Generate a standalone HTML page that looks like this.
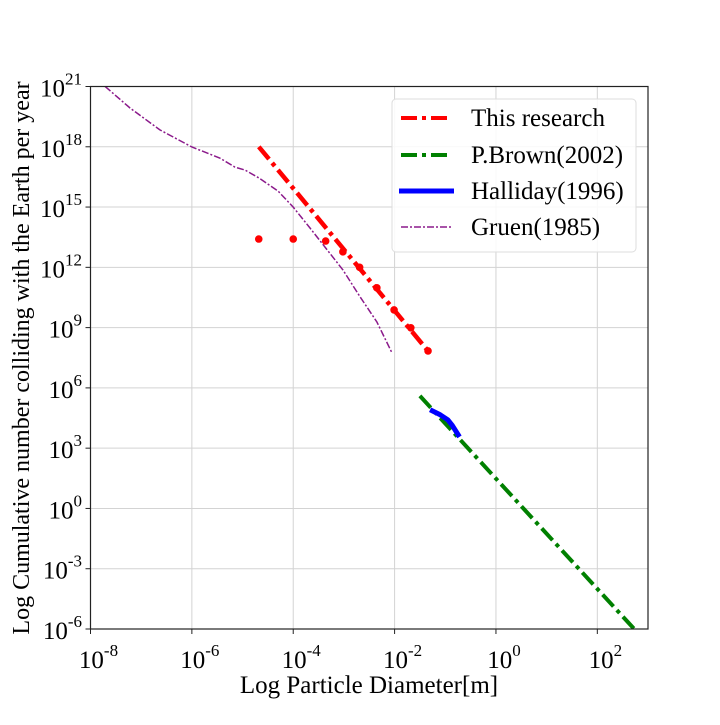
<!DOCTYPE html>
<html><head><meta charset="utf-8"><style>
html,body{margin:0;padding:0;background:#fff;}
svg text, svg tspan{font-family:"Liberation Serif","DejaVu Serif",serif;fill:#000;}
</style></head><body>
<svg id="chart" width="720" height="720" viewBox="0 0 720 720" xmlns="http://www.w3.org/2000/svg" font-family="Liberation Serif, DejaVu Serif, serif">
<defs><clipPath id="clip"><rect x="90.5" y="86.5" width="557.5" height="542.5"/></clipPath></defs>
<g id="grid"></g>
<g id="series" clip-path="url(#clip)"></g>
<rect x="90.5" y="86.5" width="557.5" height="542.5" fill="none" stroke="#222" stroke-width="1.2"/>
<g id="ticks"></g>
<text x="369" y="693" font-size="25" font-family="Liberation Serif, serif" text-anchor="middle">Log Particle Diameter[m]</text>
<text transform="translate(29,358) rotate(-90)" font-size="24" font-family="Liberation Serif, serif" text-anchor="middle">Log Cumulative number colliding with the Earth per year</text>
<g font-family="Liberation Serif, serif">
<rect x="392" y="99" width="244" height="153" rx="4" fill="#fff" fill-opacity="0.85" stroke="#ddd" stroke-width="1"/>
<line x1="401" y1="118" x2="452" y2="118" stroke="red" stroke-width="4" stroke-dasharray="16,5,4,5"/>
<text x="471" y="126" font-size="25" font-family="Liberation Serif, serif">This research</text>
<line x1="401" y1="155" x2="452" y2="155" stroke="green" stroke-width="4" stroke-dasharray="16,5,4,5"/>
<text x="471" y="163" font-size="25" font-family="Liberation Serif, serif">P.Brown(2002)</text>
<line x1="399" y1="191" x2="454" y2="191" stroke="blue" stroke-width="5"/>
<text x="471" y="199" font-size="25" font-family="Liberation Serif, serif">Halliday(1996)</text>
<line x1="401" y1="227" x2="452" y2="227" stroke="#8b1a8b" stroke-width="1.5" stroke-dasharray="7,2,2,2"/>
<text x="471" y="235" font-size="25" font-family="Liberation Serif, serif">Gruen(1985)</text>
</g>
</svg>
<script>
// data (log10 values)
const xTicks = [-8,-6,-4,-2,0,2];
const yTicks = [21,18,15,12,9,6,3,0,-3,-6];
const researchLineX = [-4.68, -1.34];
const researchLineY = [18.0, 7.84];
const researchPtsX = [-4.68,-4.0,-3.36,-3.02,-2.69,-2.35,-2.01,-1.68,-1.34];
const researchPtsY = [13.41,13.41,13.31,12.77,12.0,10.98,9.88,8.99,7.84];
const brownX = [-1.5, 2.8];
const brownY = [5.6, -6.2];
const hallidayX = [-1.30,-1.10,-0.95,-0.87,-0.72];
const hallidayY = [4.91,4.66,4.41,4.16,3.56];
const gruenX = [-7.71,-7.22,-6.63,-6.0,-5.45,-5.15,-4.95,-4.68,-4.30,-4.0,-3.67,-3.36,-3.02,-2.69,-2.35,-2.06];
const gruenY = [21.0,19.93,18.84,17.99,17.44,16.99,16.84,16.45,15.80,15.0,13.96,12.96,11.87,10.57,9.28,7.79];

const NS="http://www.w3.org/2000/svg";
const X0=90.5,X1=648,Y0=86.5,Y1=629;
function sx(v){return X0+(v-(-8))*(X1-X0)/11;}
function sy(v){return Y1-(v-(-6))*(Y1-Y0)/27;}
function mk(tag,attrs,parent){const e=document.createElementNS(NS,tag);for(const k in attrs)e.setAttribute(k,attrs[k]);parent.appendChild(e);return e;}
function tickLabel(tx,t){
  const a=document.createElementNS(NS,'tspan');a.textContent='10';tx.appendChild(a);
  const b=document.createElementNS(NS,'tspan');b.setAttribute('dy','-12');b.setAttribute('font-size','17');b.textContent=(t<0?'-'+(-t):String(t));tx.appendChild(b);
}
const grid=document.getElementById('grid'),ticks=document.getElementById('ticks'),ser=document.getElementById('series');
xTicks.forEach(t=>{
  const x=sx(t);
  const g=mk('line',{x1:x,y1:Y0,x2:x,y2:Y1,stroke:'#d3d3d3','stroke-width':1},grid);
  
  
  const tk=mk('line',{x1:x,y1:Y1,x2:x,y2:Y1+5,stroke:'#222'},ticks);
  
  
  const tx=mk('text',{x:x+8,y:Y1+39,'font-size':25,'font-family':'Liberation Serif, serif','text-anchor':'middle'},ticks);
  
  
  tickLabel(tx,t);
});
yTicks.forEach(t=>{
  const y=sy(t);
  const g=mk('line',{x1:X0,y1:y,x2:X1,y2:y,stroke:'#d3d3d3','stroke-width':1},grid);
  
  
  const tk=mk('line',{x1:X0-5,y1:y,x2:X0,y2:y,stroke:'#222'},ticks);
  
  
  const tx=mk('text',{x:82,y:y+10,'font-size':25,'font-family':'Liberation Serif, serif','text-anchor':'end'},ticks);
  
  
  tickLabel(tx,t);
});
function poly(xs,ys){return xs.map((v,i)=>sx(v).toFixed(1)+','+sy(ys[i]).toFixed(1)).join(' ');}
const gr=mk('polyline',{points:poly(gruenX,gruenY),fill:'none',stroke:'#8b1a8b','stroke-width':1.5,'stroke-dasharray':'7,2,2,2'},ser);


const br=mk('polyline',{points:poly(brownX,brownY),fill:'none',stroke:'green','stroke-width':4,'stroke-dasharray':'16,5,4,5'},ser);


const ha=mk('polyline',{points:poly(hallidayX,hallidayY),fill:'none',stroke:'blue','stroke-width':5,'stroke-linejoin':'round'},ser);


const rl=mk('polyline',{points:poly(researchLineX,researchLineY),fill:'none',stroke:'red','stroke-width':4.5,'stroke-dasharray':'16,5,4,5'},ser);


researchPtsX.forEach((v,i)=>{
  const c=mk('circle',{cx:sx(v),cy:sy(researchPtsY[i]),r:3.8,fill:'red'},ser);
  
  
});
</script>
</body></html>
